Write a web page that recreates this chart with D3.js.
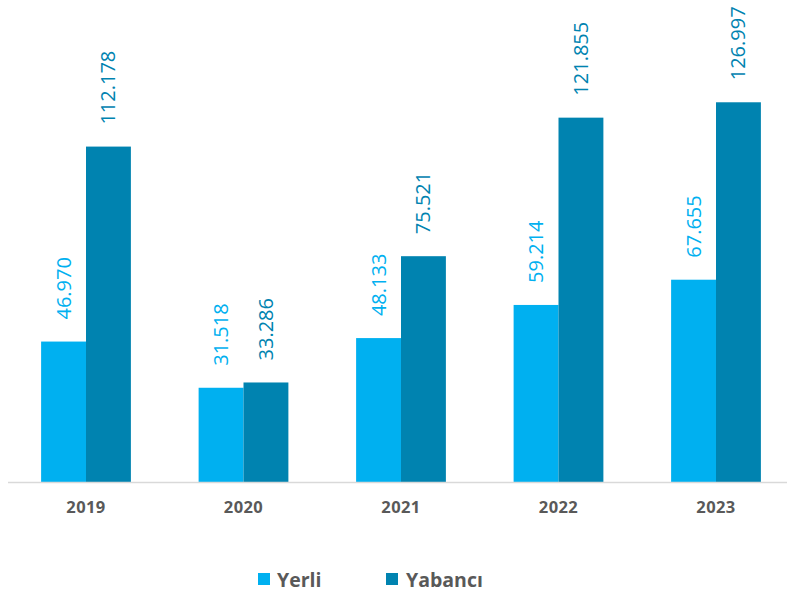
<!DOCTYPE html>
<html><head><meta charset="utf-8">
<script src="https://cdn.jsdelivr.net/npm/d3@7"></script>
<style>body{margin:0;background:#fff}svg{display:block}</style>
</head><body>
<script>
const years = ["2019","2020","2021","2022","2023"];
const seriesNames = ["Yerli","Yabancı"];
const yerli = [46.970, 31.518, 48.133, 59.214, 67.655];
const yabanci = [112.178, 33.286, 75.521, 121.855, 126.997];
const colors = ["#00B0F0","#0083B0"];
const labelColors = ["#00B0F0","#0083B0"];

const W = 787, H = 596;
const svg = d3.select("body").append("svg").attr("width", W).attr("height", H);
const fmt = v => v.toFixed(3);

const x0 = d3.scaleBand().domain(years).range([7.25, 794.75]).paddingInner(0.43).paddingOuter(0.215);
const x1 = d3.scaleBand().domain(seriesNames).range([0, x0.bandwidth()]);
const y = d3.scaleLinear().domain([0, 160]).range([482, 482 - 160*2.99]);

const data = [yerli, yabanci];
seriesNames.forEach((s, si) => {
  const g = svg.append("g");
  g.selectAll("rect").data(years).enter().append("rect")
    .attr("x", d => x0(d) + x1(s))
    .attr("width", x1.bandwidth())
    .attr("y", (d, i) => y(data[si][i]))
    .attr("height", (d, i) => y(0) - y(data[si][i]))
    .attr("fill", colors[si]);
  g.selectAll("text").data(years).enter().append("text")
    .attr("transform", (d, i) => `translate(${x0(d) + x1(s) + x1.bandwidth()/2 + 7},${y(data[si][i]) - 22}) rotate(-90)`)
    .attr("text-anchor", "start")
    .attr("font-family", "Open Sans, sans-serif")
    .attr("font-size", 20)
    .attr("fill", labelColors[si])
    .text((d, i) => fmt(data[si][i]));
});

// axis
const axis = d3.axisBottom(x0).tickSize(0).tickPadding(19);
const ag = svg.append("g").attr("transform", "translate(0,482)").call(axis);
ag.select(".domain").remove();
ag.append("line").attr("x1", 8).attr("x2", 787).attr("y1", 0.5).attr("y2", 0.5).attr("stroke", "#d9d9d9").attr("stroke-width", 1.5);
ag.selectAll(".tick text").attr("font-family", "Open Sans, sans-serif").attr("font-size", 16.5)
  .attr("font-weight", "bold").attr("fill", "#595959").attr("letter-spacing", 0.4);

// legend
const leg = svg.append("g");
const legX = [258, 386];
const legTX = [277, 406];
seriesNames.forEach((s, i) => {
  leg.append("rect").attr("x", legX[i]).attr("y", 573).attr("width", 12).attr("height", 12).attr("fill", colors[i]);
  leg.append("text").attr("x", legTX[i]).attr("y", 587)
    .attr("font-family", "Open Sans, sans-serif").attr("font-size", 19.5).attr("font-weight", "bold")
    .attr("fill", "#595959").text(s);
});
</script>
</body></html>
